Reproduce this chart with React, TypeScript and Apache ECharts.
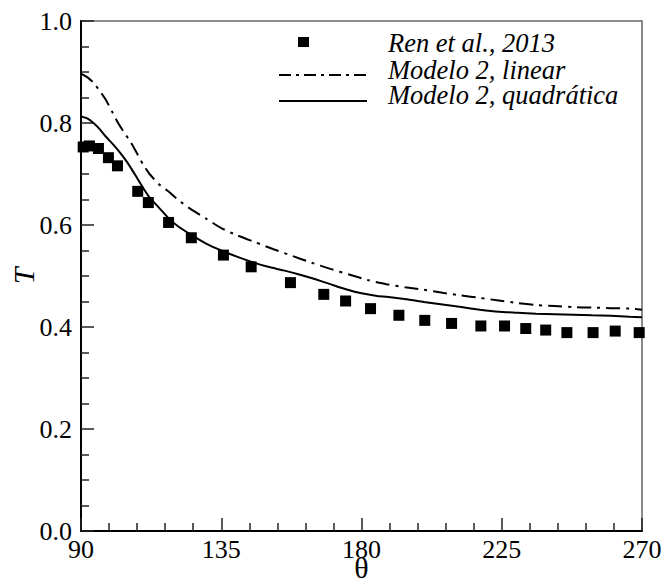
import { useEffect, useRef } from "react";
import * as echarts from "echarts";

// Experimental points (Ren et al., 2013)
const renTheta = [90.7, 92.7, 95.6, 98.8, 101.7, 108.2, 111.6, 118.1, 125.4, 135.7, 144.6, 157.2, 167.9, 174.9, 182.9, 192.0, 200.3, 208.9, 218.3, 225.9, 232.7, 239.1, 245.9, 254.3, 261.4, 269.1];
const renT = [0.753, 0.755, 0.75, 0.732, 0.716, 0.666, 0.644, 0.605, 0.575, 0.541, 0.518, 0.487, 0.464, 0.451, 0.436, 0.423, 0.413, 0.407, 0.402, 0.402, 0.397, 0.394, 0.389, 0.389, 0.392, 0.389];

// Modelo 2, linear
const linTheta = [90, 92, 94, 96, 98, 100, 102, 104, 106, 108, 110, 112, 115, 118, 121, 125, 130, 135, 140, 146, 152, 158, 164, 170, 176, 182, 188, 194, 200, 206, 212, 218, 224, 230, 236, 242, 248, 254, 260, 266, 270];
const linT = [0.897, 0.89, 0.879, 0.863, 0.845, 0.822, 0.799, 0.78, 0.762, 0.74, 0.718, 0.7, 0.68, 0.666, 0.65, 0.632, 0.613, 0.594, 0.58, 0.566, 0.552, 0.539, 0.526, 0.514, 0.503, 0.492, 0.484, 0.478, 0.473, 0.467, 0.462, 0.457, 0.452, 0.447, 0.443, 0.441, 0.439, 0.438, 0.437, 0.436, 0.434];

// Modelo 2, quadrática
const quadTheta = [90, 92, 94, 96, 98, 100, 102, 104, 106, 108, 110, 112, 115, 118, 121, 125, 130, 135, 140, 145, 150, 155, 160, 165, 170, 175, 180, 185, 190, 195, 200, 206, 212, 218, 224, 230, 236, 242, 248, 254, 260, 266, 270];
const quadT = [0.813, 0.809, 0.8, 0.788, 0.773, 0.76, 0.746, 0.73, 0.712, 0.692, 0.672, 0.654, 0.634, 0.614, 0.598, 0.582, 0.564, 0.55, 0.538, 0.527, 0.518, 0.511, 0.503, 0.494, 0.484, 0.474, 0.466, 0.461, 0.458, 0.454, 0.449, 0.444, 0.439, 0.434, 0.43, 0.428, 0.426, 0.425, 0.424, 0.423, 0.422, 0.42, 0.419];

const legendLabels = ["Ren et al., 2013", "Modelo 2, linear", "Modelo 2, quadrática"];

const SERIF = "Liberation Serif, DejaVu Serif, serif";

const zip = (xs: number[], ys: number[]) => xs.map((x, i) => [x, ys[i]]);

export default function App() {
  const ref = useRef<HTMLDivElement>(null);

  useEffect(() => {
    if (!ref.current) return;
    const chart = echarts.init(ref.current, undefined, { renderer: "svg" });

    const axisText = { fontFamily: SERIF, fontSize: 26, color: "#000" };
    const legendText = (text: string, y: number) => ({
      type: "text",
      x: 388,
      y,
      style: {
        text,
        fontFamily: SERIF,
        fontStyle: "italic",
        fontSize: 26.5,
        lineHeight: 22,
        fill: "#000",
        verticalAlign: "middle",
        textVerticalAlign: "middle",
      },
    });

    chart.setOption({
      animation: false,
      backgroundColor: "#fff",
      textStyle: { fontFamily: SERIF },
      grid: {
        left: 81,
        right: 21,
        top: 21,
        bottom: 51,
        show: true,
        borderColor: "#666",
        borderWidth: 1.5,
        containLabel: false,
        outerBoundsMode: "none",
      },
      xAxis: {
        type: "value",
        min: 90,
        max: 270,
        interval: 45,
        name: "θ",
        nameLocation: "middle",
        nameGap: 29,
        nameMoveOverlap: false,
        nameTextStyle: { fontFamily: SERIF, fontSize: 30, lineHeight: 14, color: "#000" },
        axisLine: { show: true, onZero: false, lineStyle: { color: "#000", width: 2 } },
        axisTick: { show: true, inside: true, length: 13, lineStyle: { color: "#222", width: 1.5 } },
        minorTick: { show: true, splitNumber: 5, length: 8, lineStyle: { color: "#222", width: 1.5 } },
        splitLine: { show: false },
        axisLabel: { ...axisText, lineHeight: 18, margin: 9 },
      },
      yAxis: {
        type: "value",
        min: 0,
        max: 1,
        interval: 0.2,
        name: "T",
        nameLocation: "middle",
        nameGap: 43,
        nameMoveOverlap: false,
        nameTextStyle: { fontFamily: SERIF, fontSize: 30, fontStyle: "italic", color: "#000" },
        axisLine: { show: true, onZero: false, lineStyle: { color: "#000", width: 2 } },
        axisTick: { show: true, inside: true, length: 13, lineStyle: { color: "#222", width: 1.5 } },
        minorTick: { show: true, splitNumber: 4, length: 8, lineStyle: { color: "#222", width: 1.5 } },
        splitLine: { show: false },
        axisLabel: { ...axisText, margin: 9, formatter: (v: number) => v.toFixed(1) },
      },
      series: [
        {
          name: legendLabels[1],
          type: "line",
          data: zip(linTheta, linT),
          showSymbol: false,
          smooth: 0.2,
          lineStyle: { color: "#000", width: 2, type: [14, 6, 3, 6] },
          z: 2,
        },
        {
          name: legendLabels[2],
          type: "line",
          data: zip(quadTheta, quadT),
          showSymbol: false,
          smooth: 0.2,
          lineStyle: { color: "#000", width: 2 },
          z: 2,
        },
        {
          name: legendLabels[0],
          type: "scatter",
          data: zip(renTheta, renT),
          symbol: "rect",
          symbolSize: 11,
          itemStyle: { color: "#000", opacity: 1 },
          z: 3,
        },
      ],
      graphic: [
        { type: "rect", shape: { x: 298, y: 37, width: 11, height: 10 }, style: { fill: "#000" } },
        {
          type: "line",
          shape: { x1: 279, y1: 75, x2: 367, y2: 75 },
          style: { stroke: "#000", lineWidth: 2, lineDash: [12, 5, 3, 5] },
        },
        {
          type: "line",
          shape: { x1: 279, y1: 101, x2: 367, y2: 101 },
          style: { stroke: "#000", lineWidth: 2 },
        },
        legendText(legendLabels[0], 43),
        legendText(legendLabels[1], 70),
        legendText(legendLabels[2], 95),
      ],
    });

    return () => chart.dispose();
  }, []);

  return <div ref={ref} style={{ width: 663, height: 582, position: "fixed", left: 0, top: 0 }} />;
}
